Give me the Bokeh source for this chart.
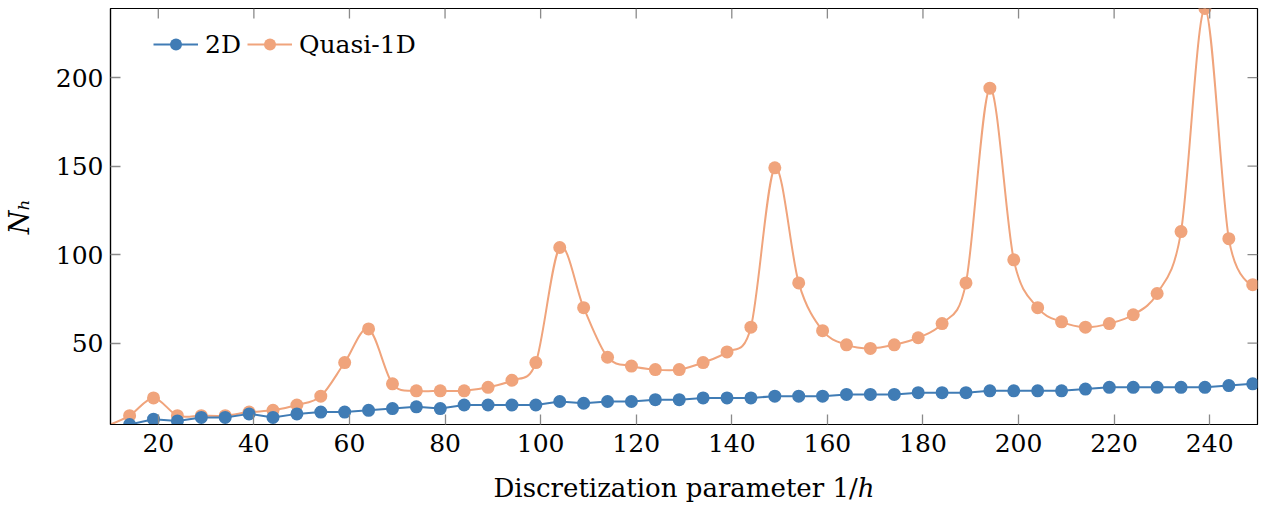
import numpy as np
from bokeh.plotting import figure
from bokeh.models import Range1d, FixedTicker, Legend, LegendItem, ColumnDataSource
from bokeh.embed import file_html
from bokeh.resources import INLINE

# Discretization parameter 1/h
inv_h = [9, 14, 19, 24, 29, 34, 39, 44, 49, 54, 59, 64, 69, 74, 79, 84, 89, 94, 99,
         104, 109, 114, 119, 124, 129, 134, 139, 144, 149, 154, 159, 164, 169, 174,
         179, 184, 189, 194, 199, 204, 209, 214, 219, 224, 229, 234, 239, 244, 249]

n_2d = [2, 4, 7, 6, 8, 8, 10, 8, 10, 11, 11, 12, 13, 14, 13, 15, 15, 15, 15,
        17, 16, 17, 17, 18, 18, 19, 19, 19, 20, 20, 20, 21, 21, 21,
        22, 22, 22, 23, 23, 23, 23, 24, 25, 25, 25, 25, 25, 26, 27]

n_quasi1d = [3, 9, 19, 9, 9, 9, 11, 12, 15, 20, 39, 58, 27, 23, 23, 23, 25, 29, 39,
             104, 70, 42, 37, 35, 35, 39, 45, 59, 149, 84, 57, 49, 47, 49,
             53, 61, 84, 194, 97, 70, 62, 59, 61, 66, 78, 113, 239, 109, 83]

x_ticks = [20, 40, 60, 80, 100, 120, 140, 160, 180, 200, 220, 240]
y_ticks = [50, 100, 150, 200]

XMIN, XMAX = 10, 250
YMIN, YMAX = 4, 239

BLUE = "#407cb5"
ORANGE = "#f0a47c"
TICK = "#8a8a8a"
SERIF = "DejaVu Serif"

W, H = 1264, 506
BL, BR, BT, BB = 107, 7, 8, 82
FW, FH = W - BL - BR, H - BT - BB
TICK_LEN = 10

p = figure(width=W, height=H, output_backend="svg", toolbar_location=None,
           x_range=Range1d(XMIN, XMAX), y_range=Range1d(YMIN, YMAX),
           min_border_left=BL, min_border_right=BR, min_border_top=BT, min_border_bottom=BB)
p.xgrid.visible = False
p.ygrid.visible = False
p.outline_line_color = "black"
p.outline_line_width = 1.2
p.background_fill_color = "white"
p.border_fill_color = "white"

# smooth curve (pgfplots-like) for quasi-1D through bezier segments
t = 0.16
xs = np.array(inv_h, dtype=float)
ys = np.array(n_quasi1d, dtype=float)
xprev = np.concatenate([[xs[0]], xs[:-1]])
xnext = np.concatenate([xs[1:], [xs[-1]]])
yprev = np.concatenate([[ys[0]], ys[:-1]])
ynext = np.concatenate([ys[1:], [ys[-1]]])
dx = xnext - xprev
dy = ynext - yprev
dx[0] = 0; dy[0] = 0; dx[-1] = 0; dy[-1] = 0
bz = ColumnDataSource(dict(
    x0=xs[:-1], y0=ys[:-1], x1=xs[1:], y1=ys[1:],
    cx0=xs[:-1] + t * dx[:-1], cy0=ys[:-1] + t * dy[:-1],
    cx1=xs[1:] - t * dx[1:], cy1=ys[1:] - t * dy[1:]))

r_q_line = p.bezier(x0="x0", y0="y0", x1="x1", y1="y1", cx0="cx0", cy0="cy0",
                    cx1="cx1", cy1="cy1", source=bz, line_color=ORANGE, line_width=2)
r_q_pts = p.scatter(inv_h[1:], n_quasi1d[1:], size=13, fill_color=ORANGE,
                    line_color=ORANGE, line_width=0)

r_2_line = p.line(inv_h, n_2d, line_color=BLUE, line_width=2)
r_2_pts = p.scatter(inv_h[1:], n_2d[1:], size=13, fill_color=BLUE, line_color=BLUE, line_width=0)

# legend proxy for the smooth line (single point outside the view)
r_q_leg = p.line(inv_h[:1], n_quasi1d[:1], line_color=ORANGE, line_width=2)

# inward ticks on the top and right frame edges
dy_tick = TICK_LEN * (YMAX - YMIN) / FH
dx_tick = TICK_LEN * (XMAX - XMIN) / FW
p.segment(x0=x_ticks, y0=[YMAX] * len(x_ticks), x1=x_ticks, y1=[YMAX - dy_tick] * len(x_ticks),
          line_color=TICK, line_width=1.3)
p.segment(x0=[XMAX] * len(y_ticks), y0=y_ticks, x1=[XMAX - dx_tick] * len(y_ticks), y1=y_ticks,
          line_color=TICK, line_width=1.3)

def style_axis(ax):
    ax.axis_line_color = "black"
    ax.axis_line_width = 1.2
    ax.major_tick_in = TICK_LEN
    ax.major_tick_out = 0
    ax.major_tick_line_color = TICK
    ax.major_tick_line_width = 1.3
    ax.minor_tick_line_color = None
    ax.major_label_text_font = SERIF
    ax.major_label_text_font_size = "25px"
    ax.major_label_text_color = "black"
    ax.axis_label_text_color = "black"
    ax.axis_label_text_font = SERIF

xa = p.xaxis[0]
xa.ticker = FixedTicker(ticks=x_ticks)
style_axis(xa)
xa.major_label_standoff = 9
xa.axis_label = "Discretization parameter 1/ℎ"
xa.axis_label_text_font_size = "26px"
xa.axis_label_text_font_style = "normal"
xa.axis_label_standoff = 18

ya = p.yaxis[0]
ya.ticker = FixedTicker(ticks=y_ticks)
style_axis(ya)
ya.major_label_standoff = 7
ya.axis_label = "Nₕ"
ya.axis_label_text_font_size = "27px"
ya.axis_label_text_font_style = "italic"
ya.axis_label_standoff = 18

legend = Legend(items=[
    LegendItem(label="2D", renderers=[r_2_line, r_2_pts]),
    LegendItem(label="Quasi-1D", renderers=[r_q_leg, r_q_pts]),
], orientation="horizontal", location=(43, 365))
legend.border_line_color = None
legend.background_fill_alpha = 0
legend.label_text_font = SERIF
legend.label_text_font_size = "25px"
legend.label_text_color = "black"
legend.glyph_width = 45
legend.glyph_height = 30
legend.label_standoff = 7
legend.spacing = 6
legend.padding = 0
legend.margin = 0
p.add_layout(legend, "center")

open("out.html", "w").write(file_html(p, INLINE))
